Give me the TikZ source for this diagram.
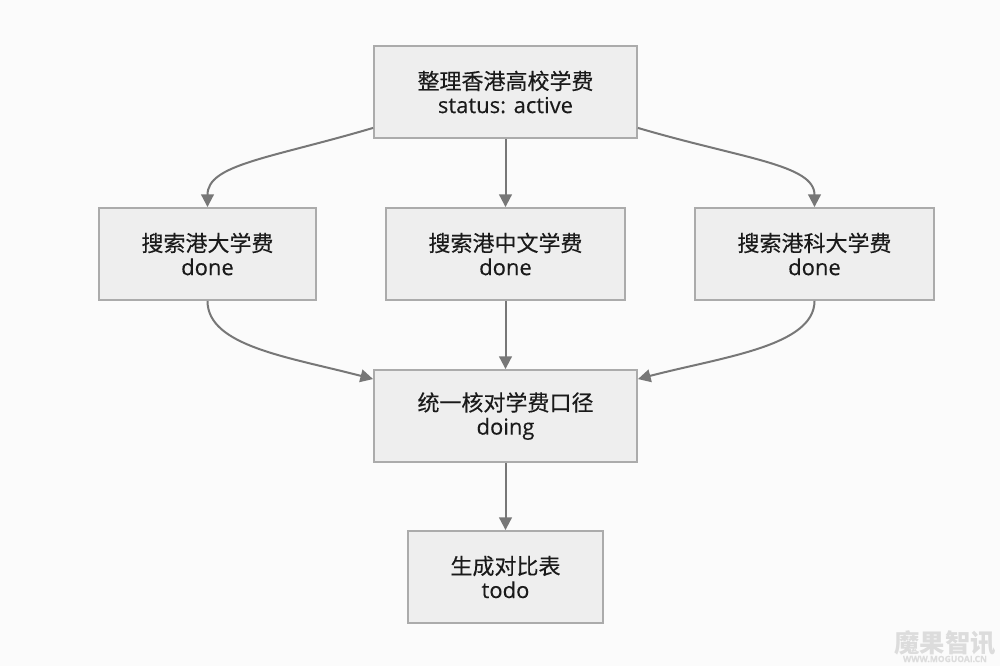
\documentclass[tikz,border=0pt]{standalone}
\usepackage{fontspec}
\usetikzlibrary{arrows.meta}
\setmainfont{Open Sans}[FakeBold=0.25]
\newfontfamily\cjk{Noto Sans CJK SC}[FakeBold=0.25]
\newfontfamily\wmfont{Noto Sans CJK SC}
\definecolor{bgc}{HTML}{FBFBFB}
\definecolor{boxf}{HTML}{EEEEEE}
\definecolor{boxl}{HTML}{ABABAB}
\definecolor{linkc}{HTML}{777777}
\definecolor{txt}{HTML}{1A1A1A}
\definecolor{wm}{HTML}{DCDCDC}
\tikzset{
  flowbox/.style={draw=boxl,fill=boxf,line width=1.4pt,inner sep=0pt,align=center,text=txt,font=\fontsize{16.5pt}{18.2pt}\selectfont},
  link/.style={draw=linkc,line width=1.5pt,-{Triangle[length=9.5pt,width=9.5pt]}}
}
\newcommand{\twolines}[2]{\raisebox{-2.2pt}{\cjk #1}\\[0.2pt]\raisebox{-1.6pt}{#2}}
\begin{document}
\begin{tikzpicture}[x=0.75pt,y=-0.75pt]
\useasboundingbox (0,0) rectangle (1000,666);
\fill[bgc] (0,0) rectangle (1000,666);
\node[flowbox,minimum width=197.25pt,minimum height=69pt] (top) at (505.5,92) {\twolines{整理香港高校学费}{status: active}};
\node[flowbox,minimum width=162.75pt,minimum height=69pt] (hku) at (207.5,254) {\twolines{搜索港大学费}{done}};
\node[flowbox,minimum width=179.25pt,minimum height=69pt] (cuhk) at (505.5,254) {\twolines{搜索港中文学费}{done}};
\node[flowbox,minimum width=179.25pt,minimum height=69pt] (ust) at (814.5,254) {\twolines{搜索港科大学费}{done}};
\node[flowbox,minimum width=197.25pt,minimum height=69pt] (check) at (505.5,416) {\twolines{统一核对学费口径}{doing}};
\node[flowbox,minimum width=146.25pt,minimum height=69pt] (table) at (505.5,577) {\twolines{生成对比表}{todo}};
\draw[link] (top) -- (cuhk);
\draw[link] (cuhk) -- (check);
\draw[link] (check) -- (table);
\draw[link] ([yshift=8.25pt]top.south west) .. controls +(-78pt,-23pt) and +(0pt,32pt) .. (hku.north);
\draw[link] ([yshift=8.25pt]top.south east) .. controls +(78pt,-23pt) and +(0pt,32pt) .. (ust.north);
\draw[link] (hku.south) .. controls +(0pt,-34pt) and +(-63pt,16.5pt) .. ([yshift=-7.5pt]check.north west);
\draw[link] (ust.south) .. controls +(0pt,-34pt) and +(63pt,16.5pt) .. ([yshift=-7.5pt]check.north east);
\node[text=wm,inner sep=0pt,font=\wmfont\bfseries\fontsize{19pt}{19pt}\selectfont] (wm1) at (945,643) {魔果智讯};
\node[text=wm,inner sep=0pt,font=\bfseries\fontsize{6.4pt}{6.4pt}\selectfont] (wm2) at (945,659) {WWW.MOGUOAI.CN};
\end{tikzpicture}
\end{document}
